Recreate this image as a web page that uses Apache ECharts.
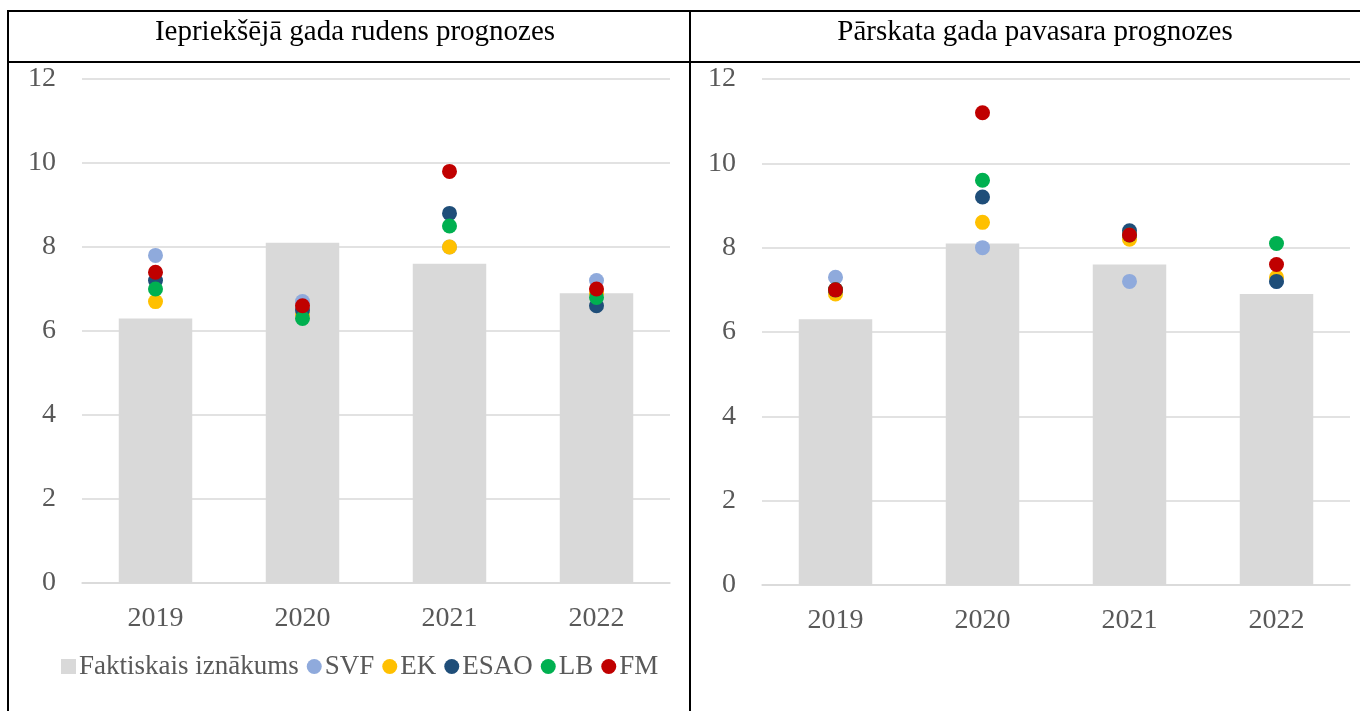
<!DOCTYPE html>
<html>
<head>
<meta charset="utf-8">
<script src="https://cdn.jsdelivr.net/npm/echarts@6/dist/echarts.min.js"></script>
<style>
html,body{margin:0;padding:0;background:#fff;}
#chart{width:1360px;height:711px;}
</style>
</head>
<body>
<div id="chart"></div>
<script>
"use strict";

const years = ["2019", "2020", "2021", "2022"];
const panelTitles = ["Iepriekšējā gada rudens prognozes", "Pārskata gada pavasara prognozes"];
const seriesNames = ["SVF", "EK", "ESAO", "LB", "FM"];
const seriesColors = ["#8FAADC", "#FFC000", "#1F4E79", "#00B050", "#C00000"];

// faktiskais iznākums (same in both panels)
const actual = [6.3, 8.1, 7.6, 6.9];

// left: previous year autumn forecasts
const autumnSVF  = [7.8, 6.7, 8.0, 7.2];
const autumnEK   = [6.7, 6.4, 8.0, 6.9];
const autumnESAO = [7.2, 6.5, 8.8, 6.6];
const autumnLB   = [7.0, 6.3, 8.5, 6.8];
const autumnFM   = [7.4, 6.6, 9.8, 7.0];

// right: current year spring forecasts
const springSVF  = [7.3, 8.0, 7.2, 7.2];
const springEK   = [6.9, 8.6, 8.2, 7.3];
const springESAO = [7.0, 9.2, 8.4, 7.2];
const springLB   = [7.0, 9.6, 8.3, 8.1];
const springFM   = [7.0, 11.2, 8.3, 7.6];

const autumn = [autumnSVF, autumnEK, autumnESAO, autumnLB, autumnFM];
const spring = [springSVF, springEK, springESAO, springLB, springFM];

const font = "'Liberation Serif', 'Times New Roman', serif";
const gray = "#595959";
const myChart = echarts.init(document.getElementById("chart"));

function axes(idx){
	return {
		x: {
			type: "category", gridIndex: idx, data: years,
			axisLine: {lineStyle: {color: "#D9D9D9", width: 1.5}},
			axisTick: {show: false},
			axisLabel: {color: gray, fontFamily: font, fontSize: 28, margin: 22}
		},
		y: {
			type: "value", gridIndex: idx, min: 0, max: 12, interval: 2,
			axisLine: {show: false}, axisTick: {show: false},
			splitLine: {lineStyle: {color: "#D9D9D9", width: 1.5}},
			axisLabel: {color: gray, fontFamily: font, fontSize: 28, margin: 26}
		}
	};
}

let series = [];
[autumn, spring].forEach((set, g)=>{
	series.push({
		name: "Faktiskais iznākums", type: "bar", xAxisIndex: g, yAxisIndex: g,
		data: actual, barWidth: "50%", itemStyle: {color: "#D9D9D9"}, silent: true
	});
	set.forEach((vals, i)=>{
		series.push({
			name: seriesNames[i], type: "scatter", xAxisIndex: g, yAxisIndex: g,
			data: vals, symbol: "circle", symbolSize: 15,
			itemStyle: {color: seriesColors[i], opacity: 1}
		});
	});
});

const a0 = axes(0), a1 = axes(1);
const line = {stroke: "#000", lineWidth: 2};

myChart.setOption({
	animation: false,
	grid: [
		{left: 82, top: 79, width: 588, height: 504},
		{left: 762, top: 79, width: 588, height: 506}
	],
	xAxis: [a0.x, a1.x],
	yAxis: [a0.y, a1.y],
	title: [
		{text: panelTitles[0], left: 350, top: 13, textAlign: "center",
			textStyle: {fontFamily: font, fontSize: 29, fontWeight: "normal", color: "#000"}},
		{text: panelTitles[1], left: 1030, top: 13, textAlign: "center",
			textStyle: {fontFamily: font, fontSize: 29, fontWeight: "normal", color: "#000"}}
	],
	legend: {
		left: 56, top: 648, itemGap: 8, itemWidth: 15, itemHeight: 15,
		data: [
			{name: "Faktiskais iznākums", icon: "rect"},
			...seriesNames.map(n=>({name: n, icon: "circle"}))
		],
		textStyle: {fontFamily: font, fontSize: 27, color: gray, padding: [0, 0, 0, -2]},
		selectedMode: false
	},
	graphic: [
		{type: "line", shape: {x1: 8, y1: 11, x2: 1360, y2: 11}, style: line},
		{type: "line", shape: {x1: 8, y1: 62, x2: 1360, y2: 62}, style: line},
		{type: "line", shape: {x1: 8, y1: 10, x2: 8, y2: 711}, style: line},
		{type: "line", shape: {x1: 690, y1: 10, x2: 690, y2: 711}, style: line}
	],
	series: series
});
</script>
</body>
</html>
